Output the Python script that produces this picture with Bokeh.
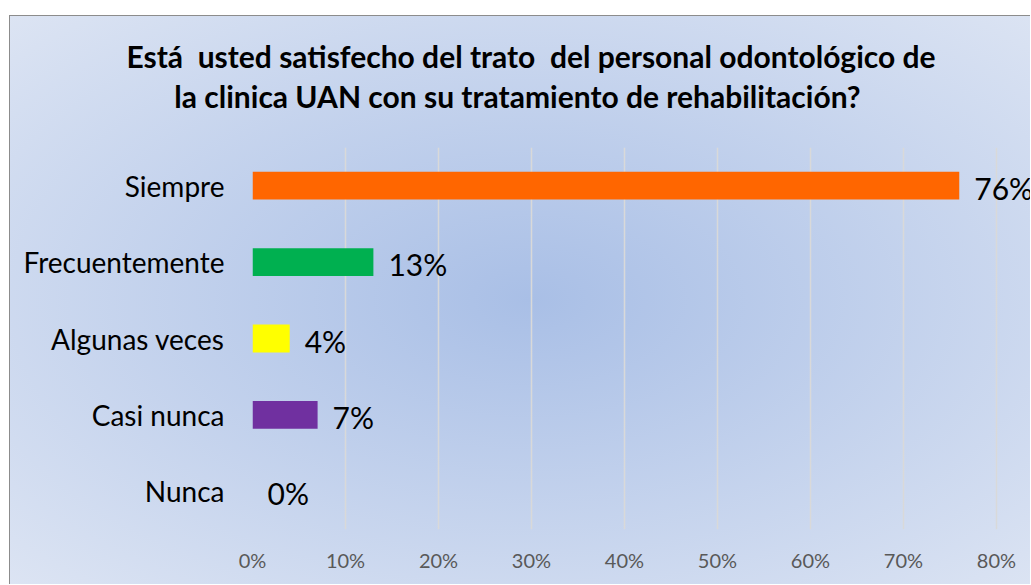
from bokeh.plotting import figure
from bokeh.layouts import column
from bokeh.models import (FactorRange, Range1d, FixedTicker, NumeralTickFormatter,
                          ColumnDataSource, LabelSet, Div)
from bokeh.core.properties import value
from bokeh.embed import file_html
from bokeh.resources import INLINE

# ---- data ----
categories = ["Siempre", "Frecuentemente", "Algunas veces", "Casi nunca", "Nunca"]
values = [0.76, 0.13, 0.04, 0.07, 0.00]
bar_colors = ["#FF6600", "#00B050", "#FFFF00", "#7030A0", "#4472C4"]
tick_values = [0.0, 0.1, 0.2, 0.3, 0.4, 0.5, 0.6, 0.7, 0.8]
title_lines = ["Está  usted satisfecho del trato  del personal odontológico de",
               "la clinica UAN con su tratamiento de rehabilitación?"]

value_labels = [f"{round(v * 100)}%" for v in values]

src = ColumnDataSource(dict(cat=categories, val=values, color=bar_colors, label=value_labels))

FONT = "Lato"
W = 1020
TITLE_H = 120
PLOT_H = 568 - TITLE_H

# ---- title ----
title_html = (
    f'<div style="font-family:{FONT};font-weight:bold;font-size:30px;line-height:40px;'
    f'color:black;padding-top:20px;width:{W}px;white-space:pre;">'
    f'<div style="text-align:center;padding-left:22px;">{title_lines[0]}</div>'
    f'<div style="text-align:center;padding-right:5px;">{title_lines[1]}</div>'
    f'</div>'
)
title_div = Div(text=title_html, width=W, height=TITLE_H, margin=0)

# ---- plot ----
p = figure(width=W, height=PLOT_H,
           y_range=FactorRange(*reversed(categories)),
           x_range=Range1d(0, 0.8366),
           output_backend="svg", toolbar_location=None,
           min_border_left=242, min_border_right=0,
           min_border_top=11, min_border_bottom=55)

p.background_fill_color = None
p.border_fill_color = None
p.outline_line_color = None

p.hbar(y="cat", left=0, right="val", height=0.364, color="color", line_color=None, source=src)

p.add_layout(LabelSet(x="val", y="cat", text="label", source=src,
                      x_offset=15, y_offset=-2, text_baseline="middle",
                      text_font=value(FONT), text_font_size="30px", text_color="black"))

# axes
p.xaxis.ticker = FixedTicker(ticks=tick_values)
p.xaxis.formatter = NumeralTickFormatter(format="0%")
p.xaxis.axis_line_color = None
p.xaxis.major_tick_line_color = None
p.xaxis.minor_tick_line_color = None
p.xaxis.major_label_standoff = 12
p.xaxis.major_label_text_font = FONT
p.xaxis.major_label_text_font_size = "20px"
p.xaxis.major_label_text_color = "#595959"

p.yaxis.axis_line_color = None
p.yaxis.major_tick_line_color = None
p.yaxis.minor_tick_line_color = None
p.yaxis.major_label_standoff = 22
p.yaxis.major_label_text_font = FONT
p.yaxis.major_label_text_font_size = "28px"
p.yaxis.major_label_text_color = "black"

p.xgrid.grid_line_color = "#d9d9d9"
p.xgrid.grid_line_width = 1.5
p.ygrid.grid_line_color = None

layout = column(title_div, p, spacing=0)
layout.styles = {
    "margin-left": "9px",
    "margin-top": "15px",
    "border-left": "1px solid #8c8c8c",
    "border-top": "1px solid #8c8c8c",
    "background": "radial-gradient(ellipse farthest-corner at 51% 50%, #a9bfe6 0%, #dce4f3 100%)",
}

open("out.html", "w").write(file_html(layout, INLINE))
